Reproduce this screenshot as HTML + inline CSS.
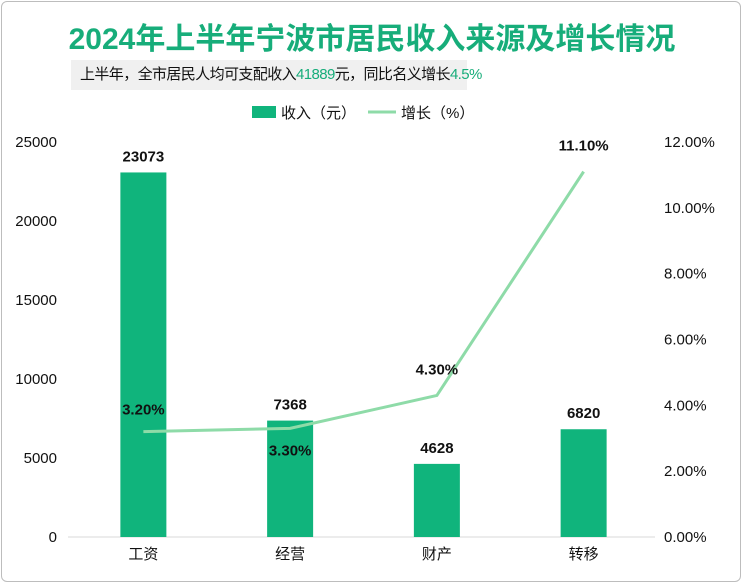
<!DOCTYPE html>
<html><head><meta charset="utf-8"><style>
body{margin:0;width:744px;height:585px;background:#fff;overflow:hidden;font-family:"Liberation Sans","Noto Sans CJK SC",sans-serif}
#frame{position:absolute;left:1px;top:1px;width:740px;height:581px;border:1px solid #bdbdbd;border-radius:6px;box-sizing:border-box}
#title{position:absolute;left:0;width:744px;top:14px;text-align:center;font-size:30px;font-weight:bold;color:#17ad7a}
#sub{position:absolute;left:71px;top:60px;width:396px;height:30px;background:#f0f0f0;font-size:15px;line-height:30px;padding-left:9px;box-sizing:border-box;color:#111;white-space:nowrap;letter-spacing:-0.6px}
#sub b{color:#17ad7a;font-weight:normal}
</style></head><body>
<div id="frame"></div>
<div id="title">2024年上半年宁波市居民收入来源及增长情况</div>
<div id="sub">上半年，全市居民人均可支配收入<b>41889</b>元，同比名义增长<b>4.5%</b></div>
<svg id="chart" width="744" height="585" style="position:absolute;left:0;top:0"></svg>
<script>
const categories=["工资","经营","财产","转移"];
const incomeValues=[23073,7368,4628,6820];
const growthValues=[3.2,3.3,4.3,11.1];
const leftTicks=[0,5000,10000,15000,20000,25000];
const rightTicks=[0,2,4,6,8,10,12];
const NS="http://www.w3.org/2000/svg";
const svg=document.getElementById('chart');
const x0=68,x1=655,yb=537,yt=142;
const yL=v=>yb-(v/25000)*(yb-yt);
const yR=v=>yb-(v/12)*(yb-yt);
const step=(x1-x0)/categories.length;
const xc=i=>x0+step*(i+0.5)+2;
function el(t,a,txt){const e=document.createElementNS(NS,t);for(const k in a)e.setAttribute(k,a[k]);if(txt!==undefined)e.textContent=txt;svg.appendChild(e);return e;}
const ax=el('line',{x1:x0,x2:x1,y1:yb,y2:yb,stroke:'#d9d9d9'});

leftTicks.forEach(v=>{const t=el('text',{x:57,y:yL(v)+5,'text-anchor':'end','font-size':15,fill:'#111'},v);
});
rightTicks.forEach(v=>{const t=el('text',{x:664,y:yR(v)+5,'font-size':15,fill:'#111'},v.toFixed(2)+'%');
});
categories.forEach((c,i)=>{
const r=el('rect',{x:xc(i)-23,y:yL(incomeValues[i]),width:46,height:yb-yL(incomeValues[i]),fill:'#10b47c'});

const l=el('text',{x:xc(i),y:yL(incomeValues[i])-11,'text-anchor':'middle','font-size':15,'font-weight':'bold',fill:'#111'},incomeValues[i]);

const cl=el('text',{x:xc(i),y:yb+22,'text-anchor':'middle','font-size':15,fill:'#111'},c);

});
const pts=growthValues.map((v,i)=>xc(i)+','+yR(v)).join(' ');
const pl=el('polyline',{points:pts,fill:'none',stroke:'#8edba8','stroke-width':3});

const offs=[-17,27,-21,-21];
growthValues.forEach((v,i)=>{
const t=el('text',{x:xc(i),y:yR(v)+offs[i],'text-anchor':'middle','font-size':15,'font-weight':'bold',fill:'#111'},v.toFixed(2)+'%');

});
const lr=el('rect',{x:252,y:106,width:24,height:12,fill:'#10b47c'});

const lt=el('text',{x:281,y:118,'font-size':15,fill:'#111'},'收入（元）');

const ll=el('line',{x1:368,x2:396,y1:112,y2:112,stroke:'#8edba8','stroke-width':3});

const lt2=el('text',{x:401,y:118,'font-size':15,fill:'#111'},'增长（%）');

</script>
</body></html>
